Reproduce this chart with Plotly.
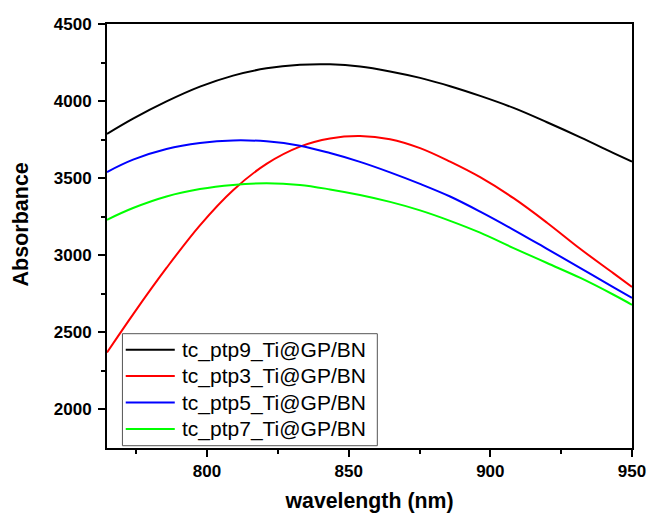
import plotly.graph_objects as go

wavelength = [764.7, 773.9, 785.7, 797.5, 809.2, 821.0, 832.8, 843.4, 854.0,
              864.6, 875.2, 885.8, 896.4, 908.2, 920.0, 931.8, 943.5, 950.0]

ptp9 = [3786, 3885, 3997, 4093, 4165, 4212, 4235, 4238, 4224,
        4192, 4150, 4096, 4033, 3955, 3862, 3764, 3662, 3606]
ptp3 = [2367, 2615, 2916, 3193, 3421, 3592, 3704, 3757, 3773,
        3752, 3694, 3606, 3505, 3369, 3210, 3039, 2881, 2793]
ptp5 = [3539, 3619, 3688, 3727, 3744, 3738, 3710, 3662, 3605,
        3537, 3462, 3380, 3282, 3164, 3040, 2915, 2790, 2721]
ptp7 = [3229, 3305, 3380, 3428, 3455, 3466, 3455, 3426, 3390,
        3345, 3290, 3222, 3145, 3045, 2948, 2851, 2742, 2677]

names = ["tc_ptp9_Ti@GP/BN", "tc_ptp3_Ti@GP/BN", "tc_ptp5_Ti@GP/BN", "tc_ptp7_Ti@GP/BN"]
values = [ptp9, ptp3, ptp5, ptp7]
colors = ["#000000", "#FF0000", "#0000FF", "#00FF00"]

x_ticks = [800, 850, 900, 950]
x_minor = [775, 825, 875, 925]
y_ticks = [2000, 2500, 3000, 3500, 4000, 4500]
y_minor = [2250, 2750, 3250, 3750, 4250]

FONT = "Liberation Sans, Arial, sans-serif"

fig = go.Figure()
for name, vals, col in zip(names, values, colors):
    fig.add_trace(go.Scatter(x=wavelength, y=vals, mode="lines", name=name,
                             showlegend=False,
                             line=dict(color=col, width=2, shape="spline",
                                       smoothing=1.0)))

# legend box drawn in paper coordinates (inside the plot, lower left)
leg_x0, leg_x1, leg_y0, leg_y1 = 0.0294, 0.5149, 0.0054, 0.2696
row_y = [0.2318, 0.1696, 0.1073, 0.0450]
fig.add_shape(type="rect", xref="paper", yref="paper",
              x0=leg_x0, x1=leg_x1, y0=leg_y0, y1=leg_y1,
              line=dict(color="#555555", width=1), fillcolor="white", layer="above")
for name, col, ry in zip(names, colors, row_y):
    fig.add_shape(type="line", xref="paper", yref="paper",
                  x0=0.0357, x1=0.1291, y0=ry, y1=ry,
                  line=dict(color=col, width=2), layer="above")
    fig.add_annotation(text=name, xref="paper", yref="paper", x=0.1419, y=ry,
                       xanchor="left", yanchor="middle", showarrow=False,
                       borderpad=0,
                       font=dict(family=FONT, size=21, color="black"))

# y-axis title
fig.add_annotation(text="Absorbance", xref="paper", yref="paper",
                   x=-0.164, y=0.527, xanchor="center", yanchor="middle",
                   textangle=-90, showarrow=False,
                   font=dict(family=FONT, size=21.5, color="black", weight="bold"))

fig.update_layout(
    width=649, height=513,
    margin=dict(l=107, r=17, t=24, b=65),
    paper_bgcolor="white", plot_bgcolor="white",
    font=dict(family=FONT, color="black"),
    showlegend=False,
)
fig.update_xaxes(
    range=[764.7, 950], tickvals=x_ticks, ticktext=[str(v) for v in x_ticks],
    showgrid=False, zeroline=False, automargin=False,
    showline=True, linecolor="black", linewidth=2, mirror=True,
    ticks="outside", ticklen=7, tickwidth=2, tickcolor="black",
    ticklabeloverflow="allow",
    minor=dict(tickvals=x_minor, ticks="outside", ticklen=4,
               tickwidth=2, tickcolor="black"),
    tickfont=dict(family=FONT, size=17, color="black", weight="bold"),
    title=dict(text="wavelength (nm)", standoff=25,
               font=dict(family=FONT, size=21.3, color="black", weight="bold")),
)
fig.update_yaxes(
    range=[1747, 4500], tickvals=y_ticks, ticktext=[str(v) for v in y_ticks],
    showgrid=False, zeroline=False, automargin=False,
    showline=True, linecolor="black", linewidth=2, mirror=True,
    ticks="outside", ticklen=7, tickwidth=2, tickcolor="black",
    ticklabelstandoff=3,
    minor=dict(tickvals=y_minor, ticks="outside",
               ticklen=4, tickwidth=2, tickcolor="black"),
    tickfont=dict(family=FONT, size=17, color="black", weight="bold"),
)
fig.write_html("out.html",
               config={"displayModeBar": False},
               post_script="document.body.style.margin='0';"
                           "document.body.style.overflow='hidden';")
